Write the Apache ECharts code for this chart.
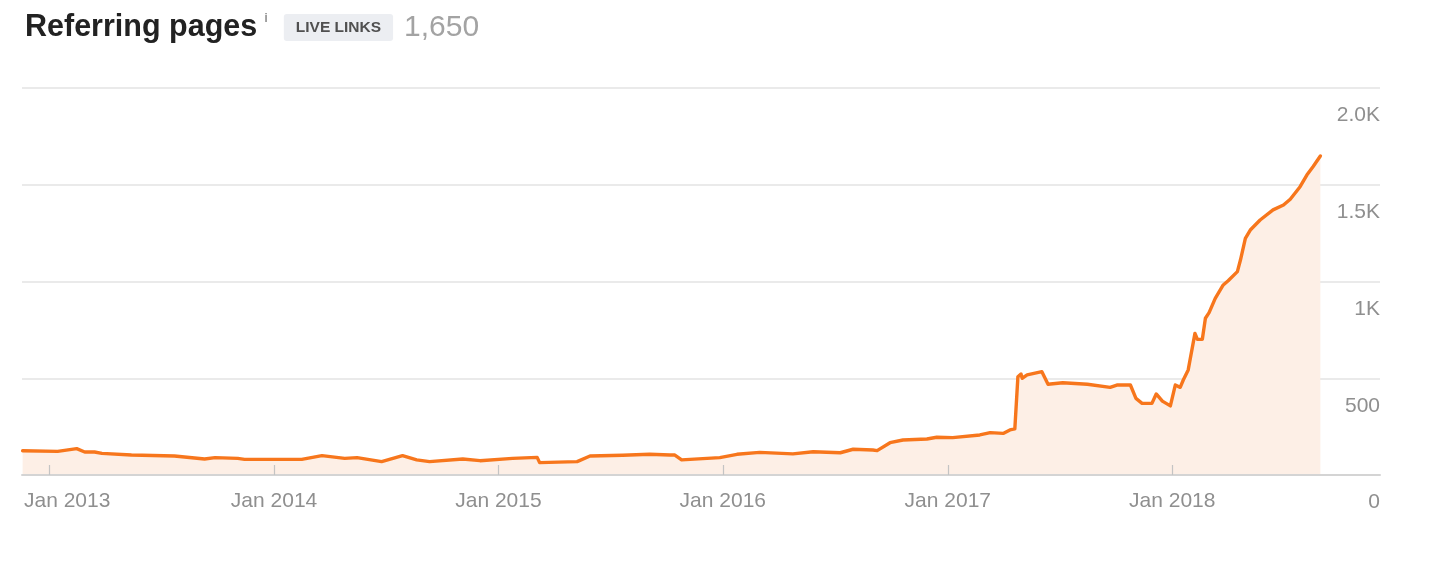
<!DOCTYPE html>
<html>
<head>
<meta charset="utf-8">
<script src="https://cdn.jsdelivr.net/npm/echarts@6/dist/echarts.min.js"></script>
<style>
html,body{margin:0;padding:0;background:#fff;}
#chart{width:1442px;height:574px;}
</style>
</head>
<body>
<div id="chart"></div>
<script>
// ---- data ----
const dates = [
 '2012-11-18','2013-01-14','2013-02-14','2013-02-27','2013-03-15','2013-03-27','2013-05-14','2013-07-23',
 '2013-09-10','2013-09-27','2013-11-03','2013-11-14','2014-02-15','2014-03-20','2014-04-26','2014-05-16',
 '2014-06-25','2014-07-29','2014-08-21','2014-09-11','2014-11-04','2014-12-02','2015-01-24','2015-03-05',
 '2015-03-09','2015-05-09','2015-05-30','2015-07-22','2015-09-04','2015-10-07','2015-10-15','2015-10-26',
 '2015-12-27','2016-01-24','2016-03-01','2016-04-24','2016-05-27','2016-07-10','2016-07-31','2016-09-01',
 '2016-09-08','2016-09-29','2016-10-20','2016-11-28','2016-12-14','2017-01-09','2017-02-22','2017-03-11',
 '2017-04-01','2017-04-12','2017-04-20','2017-04-25','2017-04-30','2017-05-02','2017-05-10','2017-06-03',
 '2017-06-05','2017-06-13','2017-07-07','2017-08-16','2017-09-22','2017-10-03','2017-10-25','2017-11-03',
 '2017-11-13','2017-11-29','2017-12-06','2017-12-16','2017-12-29','2018-01-06','2018-01-09','2018-01-14',
 '2018-01-19','2018-01-27','2018-01-30','2018-02-07','2018-02-11','2018-02-19','2018-02-24','2018-03-02',
 '2018-03-12','2018-03-25','2018-04-02','2018-04-17','2018-04-22','2018-04-30','2018-05-08','2018-05-24',
 '2018-06-14','2018-07-01','2018-07-12','2018-07-28','2018-08-08','2018-08-18','2018-08-30'
];
const referringPages = [
 125,122,136,119,119,112,103,98,
 83,90,86,81,81,100,86,90,
 69,100,78,69,83,74,86,91,
 64,69,98,102,107,103,103,78,
 90,107,117,109,120,115,133,129,
 126,167,181,186,195,193,207,219,
 215,233,238,508,522,500,517,534,
 534,469,477,469,453,465,465,396,
 370,370,419,382,357,465,460,453,
 491,543,595,732,701,701,810,839,
 913,982,1004,1051,1111,1223,1266,1318,
 1370,1395,1425,1490,1550,1593,1649
];
const yTickValues = [0, 500, 1000, 1500, 2000];
const yTickLabels = ['0', '500', '1K', '1.5K', '2.0K'];
const xMonthLabel = 'Jan';
const titleText = 'Referring pages';
const badgeText = 'LIVE LINKS';
const totalText = '1,650';

const seriesData = dates.map((d, i) => [d, referringPages[i]]);

const chart = echarts.init(document.getElementById('chart'), null, {renderer: 'canvas'});
const FONT = 'Liberation Sans, Arial, Helvetica, sans-serif';

chart.setOption({
  animation: false,
  backgroundColor: '#ffffff',
  title: {
    left: 20,
    top: 7,
    text: '{t|' + titleText + '}{i|i}{s| }{b|' + badgeText + '}{g| }{n|' + totalText + '}',
    textStyle: {
      rich: {
        t: {fontFamily: FONT, fontSize: 30.5, fontWeight: 'bold', color: '#222222'},
        i: {fontFamily: FONT, fontSize: 13, fontWeight: 'bold', color: '#9a9a9a', verticalAlign: 'top', padding: [0, 0, 12, 7]},
        s: {fontFamily: FONT, fontSize: 14, width: 16},
        g: {fontFamily: FONT, fontSize: 14, width: 11},
        b: {fontFamily: FONT, fontSize: 15.5, fontWeight: 'bold', color: '#505050', backgroundColor: '#eceef2',
            borderRadius: 3, padding: [6, 12, 5, 12]},
        n: {fontFamily: FONT, fontSize: 30, fontWeight: 'normal', color: '#a3a3a3'}
      }
    }
  },
  grid: {left: 22, right: 62, top: 88, bottom: 99, containLabel: false},
  xAxis: {
    type: 'time',
    min: '2012-11-17',
    max: '2018-12-05',
    minInterval: 365 * 24 * 3600 * 1000,
    maxInterval: 366 * 24 * 3600 * 1000,
    z: 10,
    axisLine: {show: true, lineStyle: {color: '#d4d4d4', width: 2}},
    axisTick: {show: true, inside: true, length: 10, lineStyle: {color: '#c4c4c4', width: 1.2}},
    splitLine: {show: false},
    axisLabel: {
      showMinLabel: false,
      showMaxLabel: false,
      margin: 16,
      fontFamily: FONT,
      fontSize: 21,
      color: '#8f8f8f',
      formatter: function (val) {
        const y = new Date(val).getFullYear();
        const s = xMonthLabel + ' ' + y;
        if (y === 2013) return '{f|' + s + '}';
        return s;
      },
      rich: {
        f: {fontFamily: FONT, fontSize: 21, color: '#8f8f8f', padding: [0, 0, 0, 35]}
      }
    }
  },
  yAxis: {
    type: 'value',
    position: 'right',
    min: 0,
    max: 2000,
    interval: 500,
    axisLine: {show: false},
    axisTick: {show: false},
    splitLine: {show: true, lineStyle: {color: '#e3e3e3', width: 1.5}},
    axisLabel: {
      inside: true,
      margin: 0,
      verticalAlign: 'top',
      padding: [17, 0, 0, 0],
      fontFamily: FONT,
      fontSize: 21,
      color: '#8f8f8f',
      formatter: function (v) {
        const idx = yTickValues.indexOf(v);
        return idx >= 0 ? yTickLabels[idx] : '';
      }
    }
  },
  series: [{
    type: 'line',
    data: seriesData,
    showSymbol: false,
    smooth: false,
    lineStyle: {color: '#f7761c', width: 3.4, join: 'round', cap: 'round'},
    itemStyle: {color: '#f7761c'},
    areaStyle: {color: '#fdefe6', opacity: 1},
    z: 3
  }]
});
</script>
</body>
</html>
